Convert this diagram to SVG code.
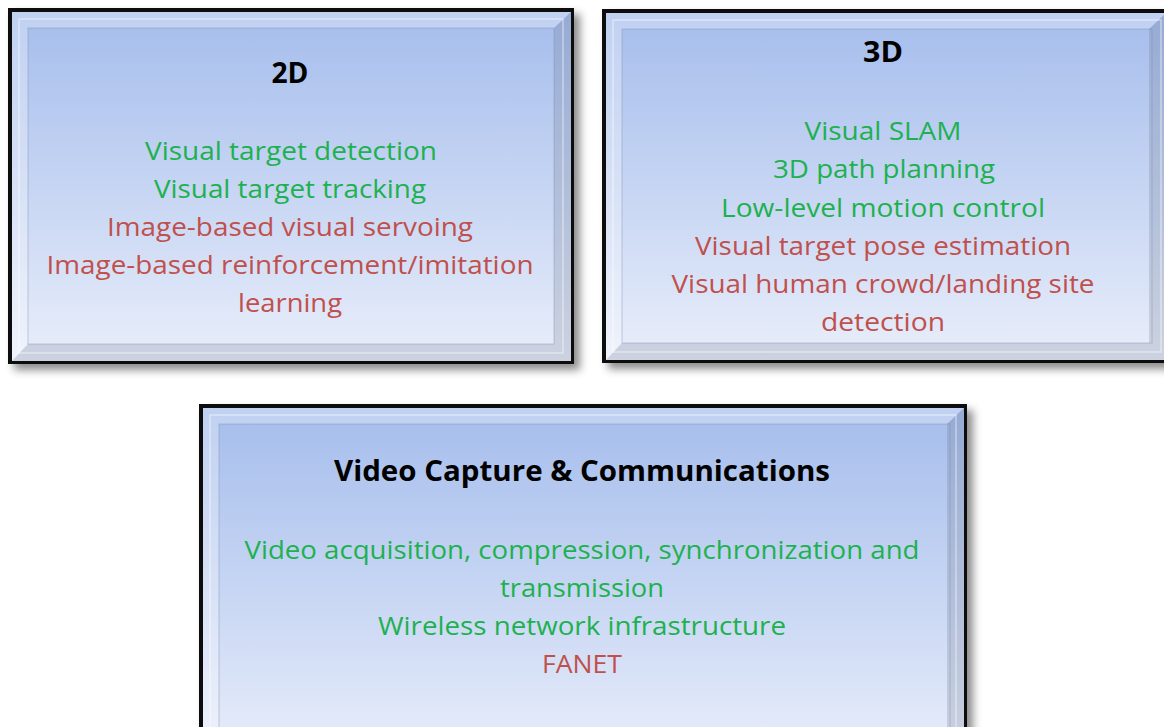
<svg xmlns="http://www.w3.org/2000/svg" width="1164" height="727" viewBox="0 0 1164 727">
  <defs>
    <linearGradient id="panelFill" x1="0" y1="0" x2="0" y2="1">
      <stop offset="0" stop-color="#a5bdec"/>
      <stop offset="0.5" stop-color="#c6d5f3"/>
      <stop offset="1" stop-color="#e9eefa"/>
    </linearGradient>
    <filter id="shadow" x="-5%" y="-5%" width="115%" height="115%">
      <feDropShadow dx="6" dy="6" stdDeviation="4" flood-color="#000" flood-opacity="0.45"/>
    </filter>
    <style>
      .rim { fill: #0a0a0a; }
      .panel { fill: url(#panelFill); }
      .hi { fill: #ffffff; fill-opacity: 0.3; }
      .lo { fill: #5a6478; fill-opacity: 0.2; }
      .inner { fill: none; stroke: #ffffff; stroke-opacity: 0.55; stroke-width: 1.2; }
      .innerDark { fill: none; stroke: #7d8aa6; stroke-opacity: 0.4; stroke-width: 1; }
      .title { font-family: "Open Sans", "Liberation Sans", sans-serif; font-weight: bold; font-size: 28px; fill: #000; text-anchor: middle; }
      .item { font-family: "Open Sans", "Liberation Sans", sans-serif; font-size: 25px; text-anchor: middle; }
      .g { fill: #1db14f; }
      .r { fill: #c0504d; }
    </style>
  </defs>

  <!-- 2D panel -->
  <g id="panel-2d">
    <rect class="rim" x="8" y="8" width="566" height="356" filter="url(#shadow)"/>
    <rect class="panel" x="12" y="12" width="559" height="349"/>
    <polygon class="hi" points="12,12 571,12 554,28 28,28 28,344 12,361"/>
    <polygon class="lo" points="571,12 571,361 12,361 28,344 554,344 554,28"/>
    <rect class="innerDark" x="28" y="28" width="526" height="316"/>
    <rect class="inner" x="19" y="19" width="544" height="334"/>
    <text class="title" x="290" y="83" textLength="37" lengthAdjust="spacingAndGlyphs">2D</text>
    <text class="item g" x="291" y="160" textLength="292" lengthAdjust="spacingAndGlyphs">Visual target detection</text>
    <text class="item g" x="290" y="198" textLength="272" lengthAdjust="spacingAndGlyphs">Visual target tracking</text>
    <text class="item r" x="290" y="236" textLength="366" lengthAdjust="spacingAndGlyphs">Image-based visual servoing</text>
    <text class="item r" x="290" y="274" textLength="487" lengthAdjust="spacingAndGlyphs">Image-based reinforcement/imitation</text>
    <text class="item r" x="290" y="312" textLength="104" lengthAdjust="spacingAndGlyphs">learning</text>
  </g>

  <!-- 3D panel -->
  <g id="panel-3d">
    <rect class="rim" x="602" y="9" width="567" height="354" filter="url(#shadow)"/>
    <rect class="panel" x="606" y="13" width="560" height="347"/>
    <polygon class="hi" points="606,13 1166,13 1149,29 622,29 622,343 606,360"/>
    <polygon class="lo" points="1166,13 1166,360 606,360 622,343 1149,343 1149,29"/>
    <rect class="innerDark" x="622" y="29" width="530" height="314"/>
    <rect class="inner" x="613" y="20" width="548" height="332"/>
    <text class="title" x="883" y="62" textLength="40" lengthAdjust="spacingAndGlyphs">3D</text>
    <text class="item g" x="883" y="140" textLength="157" lengthAdjust="spacingAndGlyphs">Visual SLAM</text>
    <text class="item g" x="884" y="178" textLength="222" lengthAdjust="spacingAndGlyphs">3D path planning</text>
    <text class="item g" x="883" y="217" textLength="324" lengthAdjust="spacingAndGlyphs">Low-level motion control</text>
    <text class="item r" x="883" y="255" textLength="376" lengthAdjust="spacingAndGlyphs">Visual target pose estimation</text>
    <text class="item r" x="883" y="293" textLength="423" lengthAdjust="spacingAndGlyphs">Visual human crowd/landing site</text>
    <text class="item r" x="883" y="331" textLength="124" lengthAdjust="spacingAndGlyphs">detection</text>
  </g>

  <!-- Video capture & communications panel -->
  <g id="panel-video">
    <rect class="rim" x="199" y="404" width="768" height="360" filter="url(#shadow)"/>
    <rect class="panel" x="203" y="408" width="761" height="353"/>
    <polygon class="hi" points="203,408 964,408 947,424 219,424 219,744 203,761"/>
    <polygon class="lo" points="964,408 964,761 203,761 219,744 947,744 947,424"/>
    <rect class="innerDark" x="219" y="424" width="731" height="320"/>
    <rect class="inner" x="210" y="415" width="746" height="338"/>
    <text class="title" x="582" y="481" textLength="496" lengthAdjust="spacingAndGlyphs">Video Capture &amp; Communications</text>
    <text class="item g" x="582" y="559" textLength="675" lengthAdjust="spacingAndGlyphs">Video acquisition, compression, synchronization and</text>
    <text class="item g" x="582" y="597" textLength="164" lengthAdjust="spacingAndGlyphs">transmission</text>
    <text class="item g" x="582" y="635" textLength="408" lengthAdjust="spacingAndGlyphs">Wireless network infrastructure</text>
    <text class="item r" x="582" y="673" textLength="80" lengthAdjust="spacingAndGlyphs">FANET</text>
  </g>
</svg>
